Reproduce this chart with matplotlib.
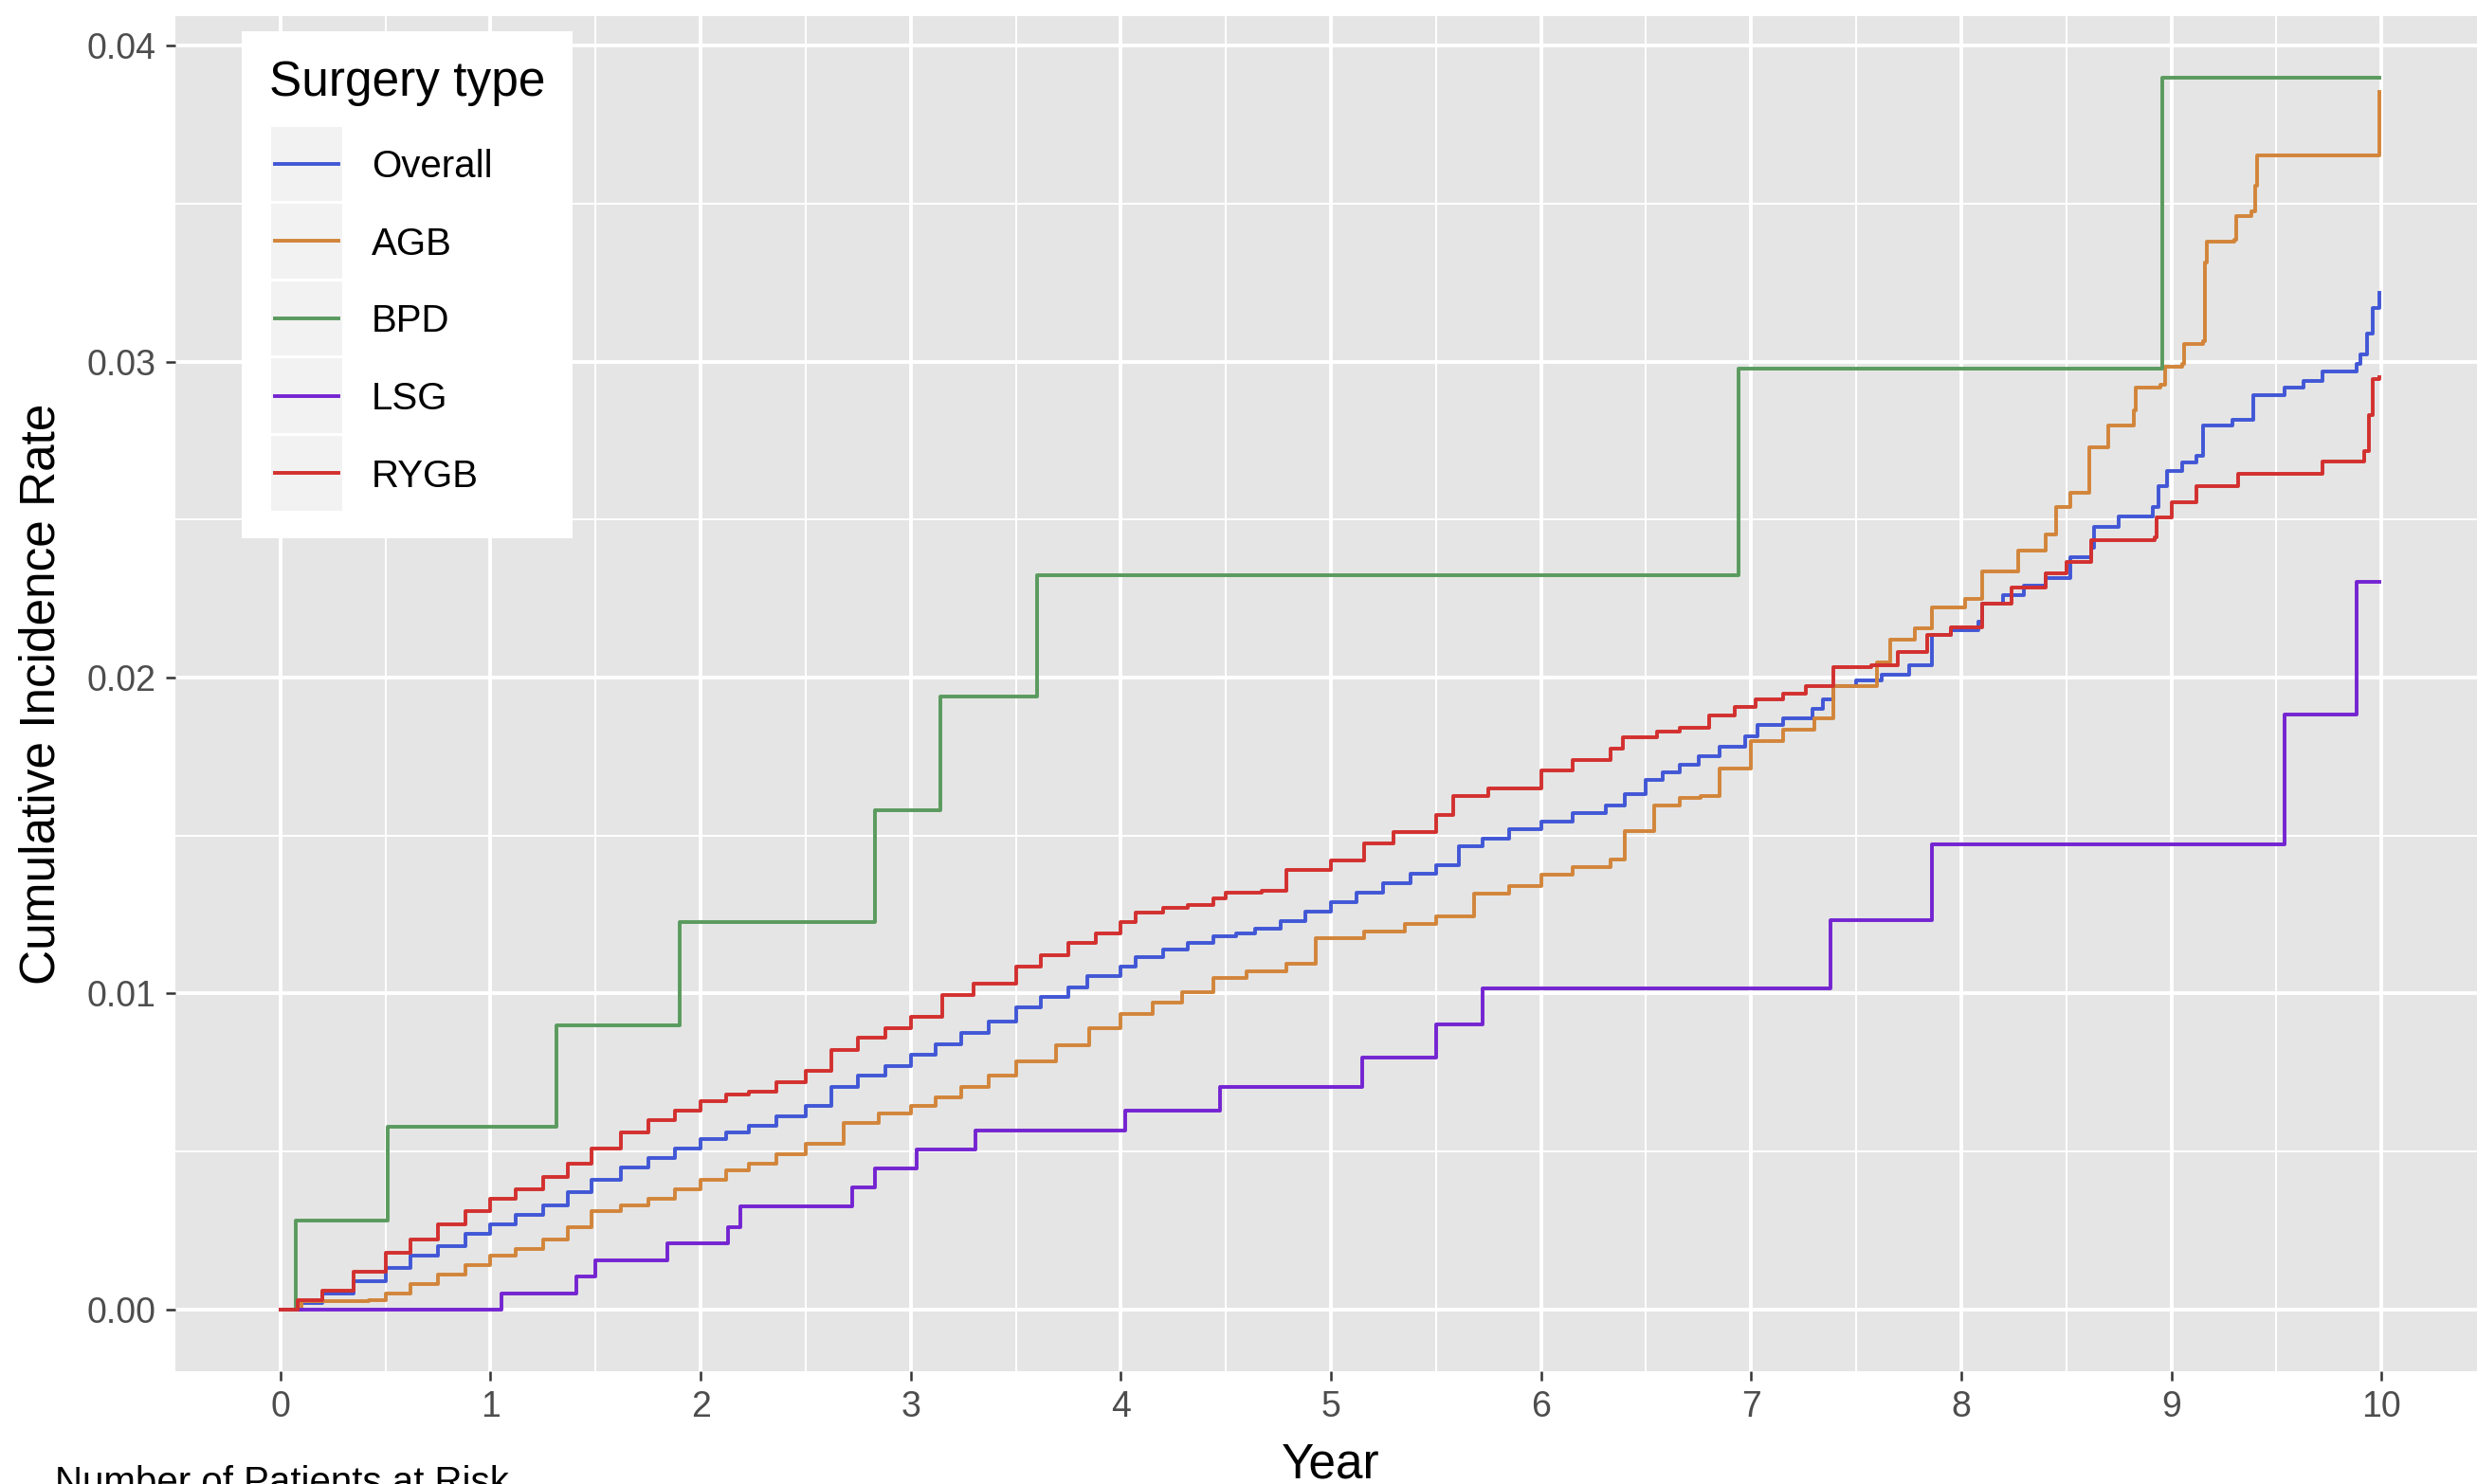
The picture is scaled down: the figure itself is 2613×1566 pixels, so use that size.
import matplotlib.pyplot as plt
from matplotlib.patches import Rectangle
from matplotlib.lines import Line2D
import numpy as np

plt.rcParams['font.family'] = ['Liberation Sans', 'DejaVu Sans']

# cumulative incidence by surgery type: event times (years) and rates
overall_t = [0, 0.08, 0.2, 0.35, 0.5, 0.62, 0.75, 0.88, 1.0, 1.12, 1.25, 1.37, 1.48, 1.62, 1.75,
             1.88, 2.0, 2.12, 2.23, 2.36, 2.5, 2.62, 2.75, 2.88, 3.0, 3.12, 3.24, 3.37, 3.5, 3.62,
             3.75, 3.84, 4.0, 4.07, 4.2, 4.32, 4.44, 4.55, 4.64, 4.76, 4.88, 5.0, 5.12, 5.25, 5.38,
             5.5, 5.61, 5.72, 5.85, 6.0, 6.15, 6.31, 6.4, 6.5, 6.58, 6.66, 6.75, 6.85, 6.97, 7.03,
             7.15, 7.29, 7.34, 7.39, 7.5, 7.62, 7.75, 7.86, 7.95, 8.08, 8.1, 8.2, 8.3, 8.4, 8.52,
             8.62, 8.63, 8.75, 8.91, 8.94, 8.98, 9.05, 9.12, 9.15, 9.29, 9.39, 9.54, 9.63, 9.72,
             9.88, 9.9, 9.93, 9.96, 9.99]
overall_v = [0, 0.0002, 0.0005, 0.0009, 0.0013, 0.0017, 0.0020, 0.0024, 0.0027, 0.0030, 0.0033,
             0.0037, 0.0041, 0.0045, 0.0048, 0.0051, 0.0054, 0.0056, 0.0058, 0.0061, 0.00645,
             0.00705, 0.0074, 0.0077, 0.00805, 0.0084, 0.00875, 0.0091, 0.00955, 0.0099, 0.0102,
             0.01055, 0.01085, 0.01115, 0.0114, 0.0116, 0.0118, 0.0119, 0.01205, 0.0123, 0.0126,
             0.0129, 0.0132, 0.0135, 0.0138, 0.01405, 0.01465, 0.0149, 0.0152, 0.01545, 0.0157,
             0.01595, 0.0163, 0.01675, 0.0170, 0.01725, 0.0175, 0.0178, 0.01814, 0.0185, 0.0187,
             0.01901, 0.0193, 0.01974, 0.0199, 0.0201, 0.0204, 0.02134, 0.0215, 0.02177, 0.02235,
             0.0226, 0.0229, 0.02316, 0.0238, 0.02411, 0.02476, 0.0251, 0.0254, 0.02605, 0.02653,
             0.0268, 0.02702, 0.02798, 0.02815, 0.02895, 0.02919, 0.0294, 0.02968, 0.02992,
             0.03024, 0.03089, 0.03169, 0.03218]

agb_t = [0, 0.1, 0.42, 0.5, 0.62, 0.75, 0.88, 1.0, 1.12, 1.25, 1.37, 1.48, 1.62, 1.75, 1.88, 2.0,
         2.12, 2.23, 2.36, 2.5, 2.68, 2.85, 3.0, 3.12, 3.24, 3.37, 3.5, 3.69, 3.85, 4.0, 4.15,
         4.29, 4.44, 4.6, 4.79, 4.93, 5.16, 5.35, 5.5, 5.68, 5.85, 6.0, 6.15, 6.33, 6.4, 6.54,
         6.66, 6.76, 6.85, 7.0, 7.15, 7.3, 7.39, 7.6, 7.66, 7.78, 7.86, 8.02, 8.1, 8.27, 8.4,
         8.45, 8.52, 8.61, 8.7, 8.82, 8.83, 8.95, 8.97, 9.05, 9.06, 9.15, 9.16, 9.17, 9.3, 9.31,
         9.38, 9.4, 9.41, 9.99]
agb_v = [0, 0.00025, 0.0003, 0.0005, 0.0008, 0.0011, 0.0014, 0.0017, 0.0019, 0.0022, 0.0026,
         0.0031, 0.0033, 0.0035, 0.0038, 0.0041, 0.0044, 0.0046, 0.0049, 0.00525, 0.0059, 0.0062,
         0.00645, 0.0067, 0.00705, 0.0074, 0.00785, 0.00835, 0.0089, 0.00935, 0.0097, 0.01005,
         0.0105, 0.0107, 0.01095, 0.01175, 0.01195, 0.0122, 0.01245, 0.01315, 0.0134, 0.01375,
         0.0140, 0.01425, 0.01515, 0.01595, 0.0162, 0.01625, 0.01712, 0.01799, 0.01836, 0.01872,
         0.01974, 0.02047, 0.02119, 0.02156, 0.02221, 0.0225, 0.02337, 0.02403, 0.02453, 0.0254,
         0.02584, 0.0273, 0.02798, 0.02847, 0.02919, 0.02927, 0.02984, 0.02992, 0.03056, 0.03065,
         0.03315, 0.03379, 0.03387, 0.0346, 0.03476, 0.03556, 0.03653, 0.03855]

bpd_t = [0, 0.075, 0.51, 1.315, 1.9, 2.83, 3.14, 3.6, 6.94, 8.955, 9.99]
bpd_v = [0, 0.00281, 0.00577, 0.00899, 0.01225, 0.0158, 0.0194, 0.02323, 0.02977, 0.03898, 0.03898]

lsg_t = [0, 1.05, 1.41, 1.5, 1.84, 2.13, 2.19, 2.72, 2.83, 3.03, 3.31, 4.02, 4.47, 5.15, 5.5,
         5.72, 7.38, 7.86, 9.54, 9.88, 9.99]
lsg_v = [0, 0.0005, 0.00105, 0.00156, 0.0021, 0.0026, 0.00325, 0.00385, 0.00445, 0.00505,
         0.00565, 0.0063, 0.00705, 0.00797, 0.00903, 0.01017, 0.01233, 0.01472, 0.01882, 0.02302,
         0.02302]

rygb_t = [0, 0.08, 0.2, 0.35, 0.5, 0.62, 0.75, 0.88, 1.0, 1.12, 1.25, 1.37, 1.48, 1.62, 1.75,
          1.88, 2.0, 2.12, 2.23, 2.36, 2.5, 2.62, 2.75, 2.88, 3.0, 3.15, 3.3, 3.5, 3.62, 3.75,
          3.88, 4.0, 4.07, 4.2, 4.32, 4.44, 4.5, 4.67, 4.79, 5.0, 5.16, 5.3, 5.5, 5.58, 5.75, 6.0,
          6.15, 6.33, 6.39, 6.55, 6.66, 6.8, 6.92, 7.02, 7.15, 7.26, 7.39, 7.57, 7.7, 7.84, 7.95,
          8.1, 8.24, 8.4, 8.5, 8.62, 8.92, 8.93, 9.0, 9.12, 9.32, 9.72, 9.92, 9.94, 9.96, 9.99]
rygb_v = [0, 0.0003, 0.0006, 0.0012, 0.0018, 0.0022, 0.0027, 0.0031, 0.0035, 0.0038, 0.0042,
          0.0046, 0.0051, 0.0056, 0.0060, 0.0063, 0.0066, 0.0068, 0.0069, 0.0072, 0.00755,
          0.0082, 0.0086, 0.0089, 0.00925, 0.00995, 0.0103, 0.01085, 0.0112, 0.0116, 0.0119,
          0.01225, 0.01255, 0.0127, 0.0128, 0.0130, 0.0132, 0.01325, 0.0139, 0.0142, 0.01475,
          0.0151, 0.01565, 0.01625, 0.0165, 0.01705, 0.0174, 0.01775, 0.0181, 0.0183, 0.0184,
          0.0188, 0.01908, 0.0193, 0.0195, 0.01974, 0.02032, 0.0204, 0.0208, 0.02134, 0.0216,
          0.02235, 0.02286, 0.0233, 0.02366, 0.02435, 0.02444, 0.02508, 0.02556, 0.02605,
          0.02645, 0.02685, 0.02718, 0.0283, 0.02944, 0.02952]

labels = ['Overall', 'AGB', 'BPD', 'LSG', 'RYGB']
colors = ['#4157D6', '#D2853A', '#5A9A5E', '#7424D1', '#D2302F']
series = [(overall_t, overall_v), (agb_t, agb_v), (bpd_t, bpd_v), (lsg_t, lsg_v), (rygb_t, rygb_v)]

W, H = 2613, 1566
fig = plt.figure(figsize=(W / 100, H / 100), dpi=100)


def fx(px):
    return px / W


def fy(py):
    return 1 - py / H


# panel (right edge runs slightly past the canvas)
ax = fig.add_axes([fx(185), fy(1446.5), 2438 / W, (1446.5 - 16.6) / H])
ax.set_facecolor('#E5E5E5')
for s in ax.spines.values():
    s.set_visible(False)
ax.set_xlim(-0.5, 10.5)
ax.set_ylim(-0.00195, 0.04095)

ax.set_xticks(range(11))
ax.set_xticks(np.arange(0.5, 10, 1.0), minor=True)
ax.set_yticks([0, 0.01, 0.02, 0.03, 0.04])
ax.set_yticklabels(['0.00', '0.01', '0.02', '0.03', '0.04'])
ax.set_yticks([0.005, 0.015, 0.025, 0.035], minor=True)
ax.grid(which='major', color='white', lw=2.8)
ax.grid(which='minor', color='white', lw=1.4)
ax.set_axisbelow(True)
ax.tick_params(which='major', length=7, width=1.8, color='#333333',
               labelsize=27, labelcolor='#4D4D4D', pad=8)
ax.tick_params(which='minor', length=0)

for (t, v), c in zip(series, colors):
    ax.step(t, v, where='post', color=c, lw=2.8)

# axis titles
fig.text(fx(1404), fy(1560), 'Year', fontsize=37, ha='center', va='baseline')
fig.text(fx(58), fy(732), 'Cumulative Incidence Rate', fontsize=37, rotation=90,
         rotation_mode='anchor', ha='center', va='baseline')
fig.text(fx(58), fy(1576), 'Number of Patients at Risk', fontsize=29, ha='left', va='baseline')

# legend box
fig.add_artist(Rectangle((fx(255), fy(568)), (604 - 255) / W, (568 - 33) / H,
                         transform=fig.transFigure, facecolor='white', edgecolor='none'))
fig.text(fx(284), fy(101), 'Surgery type', fontsize=37, ha='left', va='baseline')
row_h = 81.6
for i, (lab, c) in enumerate(zip(labels, colors)):
    top = 132 + i * row_h
    cy = top + row_h / 2
    fig.add_artist(Rectangle((fx(286), fy(top + row_h - 1.5)), 75 / W, (row_h - 3) / H,
                             transform=fig.transFigure, facecolor='#F2F2F2', edgecolor='none'))
    fig.add_artist(Line2D([fx(290), fx(357)], [fy(cy), fy(cy)], transform=fig.transFigure,
                          color=c, lw=2.8))
    fig.text(fx(392), fy(cy + 14.5), lab, fontsize=29, ha='left', va='baseline')

fig.savefig('out.png', dpi=100, facecolor='white')
